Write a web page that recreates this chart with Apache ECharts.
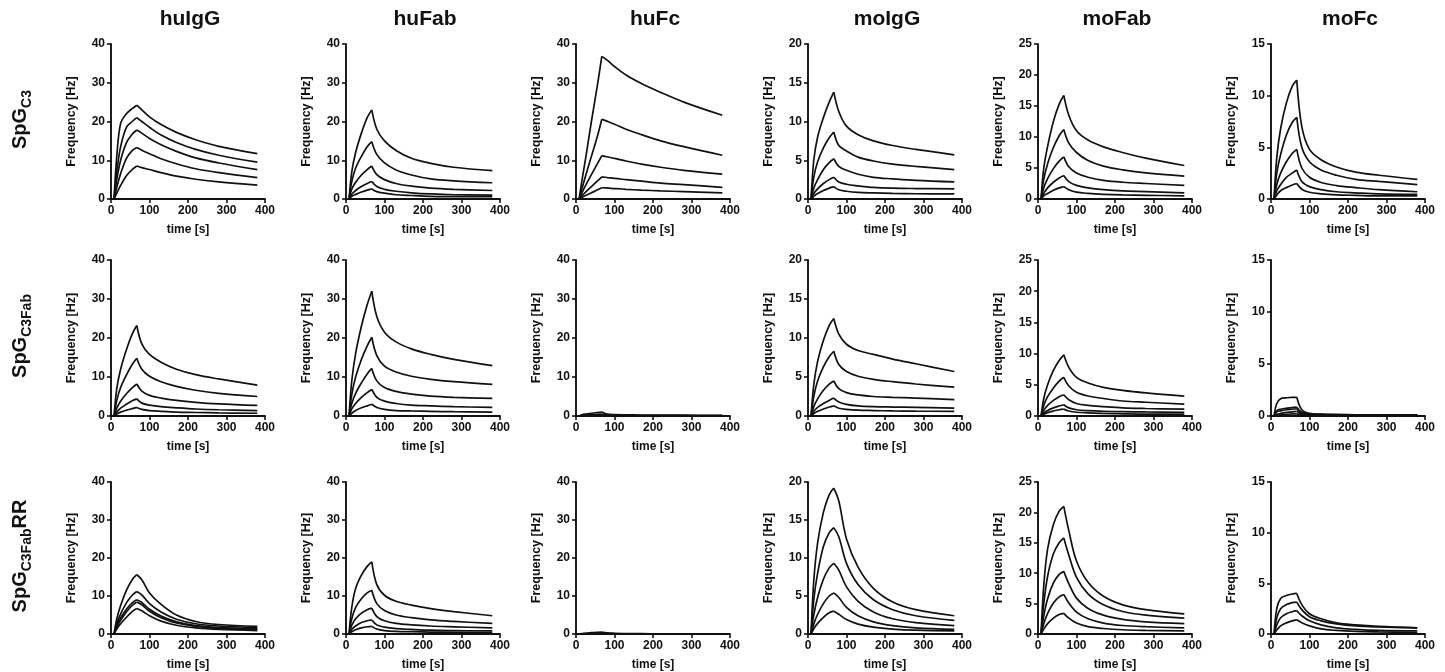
<!DOCTYPE html>
<html><head><meta charset="utf-8">
<script src="https://cdn.jsdelivr.net/npm/echarts@6/dist/echarts.min.js"></script>
<style>html,body{margin:0;padding:0;background:#fff}#c{width:1445px;height:672px}</style>
</head><body><div id="c"></div>
<script>
// ---------- DATA ----------
const TIME = [0, 8, 15, 25, 40, 55, 67, 80, 100, 130, 170, 220, 280, 380];
const columns = ['huIgG', 'huFab', 'huFc', 'moIgG', 'moFab', 'moFc'];
const yMax = [40, 40, 40, 20, 25, 15];
const yStep = [10, 10, 10, 5, 5, 5];
const xTickStep = 100;
const xMax = 400;
const rowLabels = [
  { main: 'SpG', sub: 'C3', tail: '' },
  { main: 'SpG', sub: 'C3Fab', tail: '' },
  { main: 'SpG', sub: 'C3Fab', tail: 'RR' }
];
const xName = 'time [s]';
const yName = 'Frequency [Hz]';

// Row 1: SpG C3
const spgC3_huIgG = [
  [0,0,11,19.5,22,23.3,24.2,23,21.2,19.2,17.2,15.3,13.6,11.7],
  [0,0,7,13.5,18.5,20,21,20,18.5,16.5,14.6,12.8,11.3,9.5],
  [0,0,5,10,14.5,16.7,17.8,17,15.6,14,12.3,10.6,9.3,7.6],
  [0,0,3,6.5,10.5,12.5,13.3,12.6,11.7,10.4,9.1,7.8,6.8,5.5],
  [0,0,1.5,3.5,6,7.6,8.5,8.1,7.6,6.8,5.9,5.1,4.4,3.6]
];
const spgC3_huFab = [
  [0,0,7,12,17,21,23,18,15,12.5,10.5,9.2,8.2,7.3],
  [0,0,4.5,8,11,13.5,14.8,11.5,9.3,7.5,6.2,5.2,4.7,4.2],
  [0,0,2.5,4.3,6.2,7.6,8.5,6.3,5,4,3.3,2.8,2.5,2.2],
  [0,0,1.2,2.2,3.2,4,4.5,3.2,2.5,2,1.6,1.3,1.1,1.0],
  [0,0,0.7,1.2,1.8,2.3,2.6,1.9,1.5,1.1,0.9,0.7,0.6,0.6]
];
const spgC3_huFc = [
  [0,0,4.5,10.5,20,29,36.8,35.9,34.2,32,29.8,27.5,25,21.6],
  [0,0,2.5,6,11,16,20.6,20.1,19.3,18,16.6,15,13.5,11.3],
  [0,0,1.5,3.5,6.3,9,11.2,10.9,10.5,9.8,9,8.2,7.4,6.4],
  [0,0,0.8,1.8,3.2,4.6,5.7,5.55,5.3,5,4.6,4.1,3.7,3.0],
  [0,0,0.4,0.9,1.6,2.3,2.9,2.85,2.7,2.5,2.3,2.1,1.9,1.6]
];
const spgC3_moIgG = [
  [0,0,5,8,10.5,12.5,13.8,11.3,9.4,8.3,7.5,6.9,6.4,5.7],
  [0,0,2.8,4.8,6.6,7.9,8.65,6.9,6.2,5.4,4.9,4.5,4.2,3.8],
  [0,0,1.4,2.5,3.8,4.7,5.2,4.2,3.7,3.2,2.8,2.6,2.4,2.2],
  [0,0,0.7,1.3,2,2.5,2.8,2.2,1.9,1.7,1.5,1.4,1.35,1.3],
  [0,0,0.35,0.7,1.1,1.4,1.6,1.2,1.0,0.85,0.78,0.72,0.68,0.65]
];
const spgC3_moFab = [
  [0,0,5,8.5,12.5,15.3,16.7,13.5,11,9.5,8.4,7.5,6.6,5.4],
  [0,0,3.2,5.7,8.3,10.2,11.2,9,7.5,6.2,5.3,4.7,4.2,3.7],
  [0,0,1.8,3.3,4.9,6.1,6.8,5.2,4.2,3.5,3,2.7,2.5,2.2],
  [0,0,0.9,1.8,2.7,3.4,3.8,2.8,2.2,1.8,1.5,1.3,1.2,1.0],
  [0,0,0.5,0.9,1.4,1.8,2.0,1.5,1.1,0.9,0.75,0.65,0.6,0.5]
];
const spgC3_moFc = [
  [0,0,4,6.8,9.3,10.9,11.5,7,4.8,3.8,3.1,2.6,2.3,1.9],
  [0,0,2.5,4.3,6.2,7.4,7.9,5,3.6,2.8,2.3,1.9,1.7,1.4],
  [0,0,1.4,2.5,3.6,4.4,4.8,3,2.1,1.6,1.3,1.1,0.9,0.7],
  [0,0,0.8,1.4,2.1,2.5,2.8,1.7,1.2,0.9,0.7,0.6,0.5,0.45],
  [0,0,0.4,0.8,1.1,1.35,1.5,0.95,0.65,0.5,0.4,0.35,0.3,0.3]
];

// Row 2: SpG C3Fab
const spgC3Fab_huIgG = [
  [0,0,7,12,17,21,23.2,18.5,15.8,13.8,12,10.6,9.5,7.9],
  [0,0,4,7.3,10.5,13.2,14.8,12,10.2,8.8,7.6,6.6,5.8,5.0],
  [0,0,2,3.8,5.7,7.2,8.2,6.4,5.3,4.6,4.0,3.5,3.1,2.7],
  [0,0,1,2,3,3.9,4.4,3.3,2.8,2.4,2.1,1.8,1.6,1.4],
  [0,0,0.5,1,1.5,1.9,2.2,1.7,1.4,1.2,1.0,0.9,0.8,0.7]
];
const spgC3Fab_huFab = [
  [0,0,9,16,23,28.5,32,25.5,21.5,19,17.2,15.8,14.5,12.9],
  [0,0,5.5,10,14.5,18,20.2,15.5,12.8,11.3,10.2,9.4,8.8,8.1],
  [0,0,3.2,5.8,8.5,10.8,12.2,9,7.3,6.3,5.6,5.1,4.8,4.5],
  [0,0,1.8,3.2,4.8,6,6.8,4.8,3.8,3.2,2.8,2.6,2.4,2.2],
  [0,0,0.7,1.4,2.1,2.6,3.0,2.2,1.7,1.4,1.3,1.2,1.1,1.0]
];
const spgC3Fab_huFc = [
  [0,0,0.3,0.5,0.7,0.9,1.0,0.5,0.35,0.3,0.25,0.2,0.2,0.15],
  [0,0,0.15,0.25,0.35,0.45,0.5,0.3,0.2,0.15,0.12,0.1,0.1,0.1],
  [0,0,0.1,0.15,0.2,0.22,0.25,0.15,0.1,0.08,0.06,0.05,0.05,0.05],
  [0,0,0.05,0.08,0.1,0.12,0.12,0.08,0.05,0.04,0.03,0.03,0.03,0.03],
  [0,0,0.02,0.03,0.04,0.05,0.05,0.03,0.02,0.02,0.01,0.01,0.01,0.01]
];
const spgC3Fab_moIgG = [
  [0,0,4,7,9.7,11.6,12.5,10.5,9.2,8.4,7.9,7.3,6.7,5.7],
  [0,0,2.5,4.5,6.3,7.6,8.3,6.6,5.7,5.1,4.7,4.4,4.1,3.7],
  [0,0,1.2,2.2,3.3,4.1,4.5,3.5,3.0,2.7,2.5,2.4,2.3,2.1],
  [0,0,0.6,1.1,1.6,2.0,2.3,1.8,1.5,1.3,1.2,1.15,1.1,1.0],
  [0,0,0.3,0.6,0.9,1.15,1.3,1.0,0.85,0.75,0.7,0.65,0.62,0.6]
];
const spgC3Fab_moFab = [
  [0,0,2.8,5,7.3,8.9,9.8,7.8,6.2,5.3,4.6,4.1,3.7,3.2],
  [0,0,1.7,3.1,4.5,5.6,6.2,4.8,3.8,3.2,2.8,2.4,2.2,1.9],
  [0,0,0.9,1.7,2.5,3.1,3.4,2.6,2.0,1.7,1.5,1.3,1.2,1.1],
  [0,0,0.5,0.9,1.3,1.6,1.8,1.3,1.0,0.85,0.75,0.7,0.65,0.6],
  [0,0,0.3,0.55,0.8,1.0,1.1,0.8,0.6,0.5,0.4,0.35,0.3,0.3]
];
const spgC3Fab_moFc = [
  [0,0,1.2,1.65,1.75,1.8,1.8,0.6,0.25,0.18,0.15,0.12,0.1,0.1],
  [0,0,0.5,0.65,0.75,0.8,0.85,0.35,0.2,0.15,0.12,0.1,0.08,0.08],
  [0,0,0.4,0.5,0.6,0.65,0.7,0.3,0.15,0.1,0.08,0.06,0.05,0.05],
  [0,0,0.15,0.25,0.35,0.4,0.45,0.2,0.1,0.06,0.05,0.04,0.03,0.03],
  [0,0,0.05,0.1,0.15,0.2,0.2,0.1,0.05,0.03,0.02,0.02,0.01,0.01]
];

// Row 3: SpG C3Fab RR
const spgC3FabRR_huIgG = [
  [0,0,4,7.5,11.5,14.3,15.6,14.3,10.8,7.8,5,3.3,2.5,2.0],
  [0,0,2.8,5.3,8.2,10.2,11.2,10.3,8,5.8,3.9,2.7,2.1,1.7],
  [0,0,2.2,4.2,6.5,8.2,9.0,8.3,6.5,4.7,3.2,2.2,1.7,1.4],
  [0,0,1.8,3.6,5.8,7.5,8.4,7.7,6.0,4.3,2.9,2.0,1.5,1.2],
  [0,0,1.3,2.7,4.4,5.9,6.7,6.1,4.8,3.4,2.3,1.6,1.2,0.9]
];
const spgC3FabRR_huFab = [
  [0,0,7,12,15.5,17.8,19,13,10.2,8.6,7.6,6.7,5.9,4.8],
  [0,0,4,7,9.3,10.8,11.5,8,6.2,5.0,4.3,3.7,3.3,2.8],
  [0,0,2.3,4,5.5,6.4,6.8,4.6,3.5,2.8,2.4,2.1,1.9,1.6],
  [0,0,1.2,2.1,3,3.5,3.7,2.4,1.8,1.4,1.2,1.0,0.9,0.8],
  [0,0,0.6,1.1,1.6,1.9,2.0,1.3,0.9,0.7,0.6,0.5,0.45,0.4]
];
const spgC3FabRR_huFc = [
  [0,0,0.1,0.2,0.35,0.45,0.5,0.3,0.15,0.1,0.08,0.06,0.05,0.05],
  [0,0,0.05,0.1,0.15,0.18,0.2,0.12,0.08,0.05,0.04,0.03,0.03,0.03],
  [0,0,0.03,0.05,0.07,0.09,0.1,0.06,0.04,0.03,0.02,0.02,0.02,0.02],
  [0,0,0.02,0.03,0.04,0.05,0.05,0.03,0.02,0.02,0.01,0.01,0.01,0.01],
  [0,0,0.01,0.01,0.02,0.02,0.02,0.01,0.01,0.01,0,0,0,0]
];
const spgC3FabRR_moIgG = [
  [0,0,7,12,16,18.3,19.2,17.5,12.5,8.8,6,4.2,3.2,2.4],
  [0,0,4.5,8,11.5,13.3,14,12.8,9.3,6.5,4.5,3.2,2.4,1.8],
  [0,0,2.5,4.8,7.2,8.7,9.3,8.4,6.2,4.3,2.9,2.0,1.5,1.1],
  [0,0,1.3,2.6,4,5,5.4,4.8,3.5,2.4,1.6,1.1,0.8,0.6],
  [0,0,0.7,1.4,2.2,2.8,3.0,2.6,1.9,1.3,0.9,0.65,0.5,0.4]
];
const spgC3FabRR_moFab = [
  [0,0,8,14,18,20.2,21,17,12,8.5,6.2,4.8,4.0,3.3],
  [0,0,5,9.5,13.2,15,15.8,13,9.3,6.6,4.8,3.7,3.1,2.6],
  [0,0,3,5.8,8.4,9.8,10.3,8.3,5.9,4.2,3.1,2.4,2.0,1.7],
  [0,0,1.7,3.4,5.1,6.1,6.5,5.1,3.6,2.5,1.8,1.4,1.2,1.0],
  [0,0,0.8,1.7,2.6,3.2,3.4,2.6,1.8,1.2,0.9,0.7,0.6,0.5]
];
const spgC3FabRR_moFc = [
  [0,0,2.5,3.5,3.8,3.95,4.0,2.9,2.0,1.5,1.1,0.9,0.75,0.6],
  [0,0,1.6,2.5,2.9,3.1,3.15,2.4,1.7,1.3,1.0,0.8,0.7,0.6],
  [0,0,0.9,1.6,2.0,2.2,2.3,1.8,1.3,0.9,0.6,0.45,0.35,0.3],
  [0,0,0.4,0.8,1.1,1.3,1.4,1.1,0.8,0.5,0.35,0.25,0.2,0.15]
];

const panels = [
  [spgC3_huIgG, spgC3_huFab, spgC3_huFc, spgC3_moIgG, spgC3_moFab, spgC3_moFc],
  [spgC3Fab_huIgG, spgC3Fab_huFab, spgC3Fab_huFc, spgC3Fab_moIgG, spgC3Fab_moFab, spgC3Fab_moFc],
  [spgC3FabRR_huIgG, spgC3FabRR_huFab, spgC3FabRR_huFc, spgC3FabRR_moIgG, spgC3FabRR_moFab, spgC3FabRR_moFc]
];

// ---------- LAYOUT / STYLE ----------
const FONT = '"Liberation Sans", Arial, Helvetica, sans-serif';
const INK = '#111';
const colLeft = [111, 346, 576, 808, 1038, 1271];
const plotW = 154;
const rowTop = [44, 260, 482];
const rowH = [155, 156, 152];
const ASSOC_START = 1, ASSOC_END = 6; // indices joining baseline / association / dissociation

const chart = echarts.init(document.getElementById('c'), null, { renderer: 'canvas' });
const grid = [], xAxis = [], yAxis = [], series = [], graphic = [];

const ctx = document.createElement('canvas').getContext('2d');
function tw(text, font) { ctx.font = font; return ctx.measureText(text).width; }

let k = 0;
for (let r = 0; r < 3; r++) {
  for (let c = 0; c < 6; c++) {
    grid.push({ left: colLeft[c], top: rowTop[r], width: plotW, height: rowH[r], containLabel: false, outerBoundsMode: 'none' });
    xAxis.push({
      gridIndex: k, type: 'value', min: 0, max: xMax, interval: xTickStep,
      name: xName, nameLocation: 'middle', nameGap: 25,
      nameTextStyle: { fontFamily: FONT, fontWeight: 'bold', fontSize: 12, color: INK },
      axisLine: { show: true, onZero: false, lineStyle: { color: INK, width: 1.9 } },
      axisTick: { show: true, length: 4, lineStyle: { color: INK, width: 1.6 } },
      axisLabel: { fontFamily: FONT, fontWeight: 'bold', fontSize: 12, color: INK, margin: 6 },
      splitLine: { show: false }
    });
    yAxis.push({
      gridIndex: k, type: 'value', min: 0, max: yMax[c], interval: yStep[c],
      name: yName, nameLocation: 'middle', nameRotate: 90, nameGap: 33,
      nameTextStyle: { fontFamily: FONT, fontWeight: 'bold', fontSize: 12.5, color: INK },
      axisLine: { show: true, onZero: false, lineStyle: { color: INK, width: 1.9 } },
      axisTick: { show: true, length: 4, lineStyle: { color: INK, width: 1.6 } },
      axisLabel: { fontFamily: FONT, fontWeight: 'bold', fontSize: 12, color: INK, margin: 6 },
      splitLine: { show: false }
    });
    panels[r][c].forEach(curve => {
      const pts = TIME.map((t, i) => [t, curve[i]]);
      const segs = [pts.slice(0, ASSOC_START + 1), pts.slice(ASSOC_START, ASSOC_END + 1), pts.slice(ASSOC_END)];
      segs.forEach((seg, si) => {
        series.push({
          type: 'line', xAxisIndex: k, yAxisIndex: k, data: seg,
          symbol: 'none', showSymbol: false, smooth: si === 0 ? false : 0.35,
          lineStyle: { color: INK, width: 1.7 }, silent: true, animation: false, z: 3
        });
      });
    });
    k++;
  }
}

// column titles
columns.forEach((name, c) => {
  graphic.push({
    type: 'text', x: colLeft[c] + plotW / 2 + 2, y: 19,
    style: { text: name, font: `bold 21px ${FONT}`, fill: INK, textAlign: 'center', align: 'center', textVerticalAlign: 'middle', verticalAlign: 'middle' }
  });
});

// row labels (rotated, with subscript)
rowLabels.forEach((lab, r) => {
  const mainFont = `bold 20px ${FONT}`, subFont = `bold 14px ${FONT}`;
  const w1 = tw(lab.main, mainFont), w2 = tw(lab.sub, subFont), w3 = lab.tail ? tw(lab.tail, mainFont) : 0;
  const total = w1 + w2 + w3;
  const cy = rowTop[r] + rowH[r] / 2 - 2;
  const children = [
    { type: 'text', x: 0, y: 0, style: { text: lab.main, font: mainFont, fill: INK, textAlign: 'left', align: 'left', textVerticalAlign: 'middle', verticalAlign: 'middle' } },
    { type: 'text', x: w1, y: 7, style: { text: lab.sub, font: subFont, fill: INK, textAlign: 'left', align: 'left', textVerticalAlign: 'middle', verticalAlign: 'middle' } }
  ];
  if (lab.tail) children.push({ type: 'text', x: w1 + w2, y: 0, style: { text: lab.tail, font: mainFont, fill: INK, textAlign: 'left', align: 'left', textVerticalAlign: 'middle', verticalAlign: 'middle' } });
  graphic.push({ type: 'group', x: 20, y: cy + total / 2, rotation: Math.PI / 2, children });
});

chart.setOption({ animation: false, backgroundColor: '#fff', grid, xAxis, yAxis, series, graphic });
</script></body></html>
